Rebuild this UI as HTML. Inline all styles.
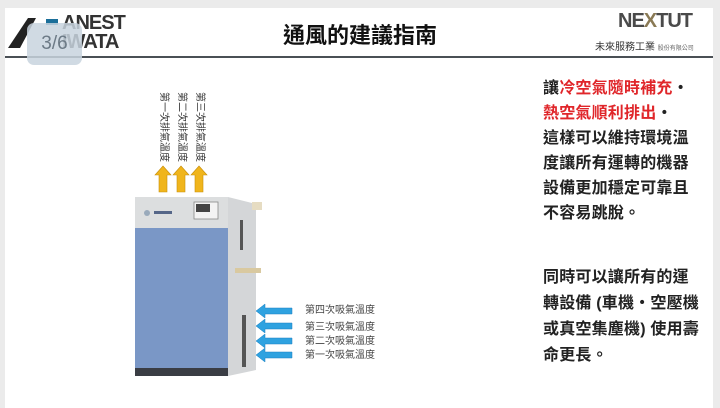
<!DOCTYPE html>
<html><head><meta charset="utf-8"><style>
body{margin:0;width:720px;height:406px;background:#ebebeb;overflow:hidden;font-family:"Liberation Sans","Noto Sans CJK TC",sans-serif;position:relative}
.page{position:absolute;left:5px;top:8px;width:708px;height:400px;background:#fff}
.abs{position:absolute}
.vt{position:absolute;writing-mode:vertical-rl;text-orientation:sideways;font-size:10px;color:#333;top:92px;line-height:12px}
.lbl{position:absolute;left:305px;font-size:10px;color:#444;line-height:12px}
.rt{position:absolute;left:543px;font-size:16px;line-height:25px;color:#222;font-weight:bold;letter-spacing:0.2px}
</style></head><body>
<div class="page"></div>
<div class="abs" style="left:5px;top:56px;width:708px;height:2px;background:#4a5055"></div>
<!-- left logo -->
<svg class="abs" style="left:8px;top:14px" width="80" height="36"><polygon points="0,34 20,4 28,4 12,34" fill="#222"/><rect x="38" y="5" width="12" height="6" fill="#1b6f9a"/></svg>
<div class="abs" style="left:62px;top:14px;font-size:20px;font-weight:bold;color:#333;line-height:19px;letter-spacing:-1px">ANEST<br>IWATA</div>
<div class="abs" style="left:27px;top:23px;width:55px;height:42px;border-radius:7px;background:rgba(200,212,222,0.85);color:#6c7a86;font-size:19px;text-align:center;line-height:42px">3/6</div>
<div class="abs" style="left:200px;top:18px;width:320px;text-align:center;font-size:22px;color:#111;font-weight:bold">通風的建議指南</div>
<!-- right logo -->
<div class="abs" style="left:618px;top:10px;font-size:20px;font-weight:bold;color:#4a4a4a;letter-spacing:-1px">NE<span style="color:#8a7a55">X</span>TUT</div>
<div class="abs" style="left:595px;top:38px;font-size:10px;color:#333;white-space:nowrap">未來服務工業 <span style="font-size:6px;color:#666">股份有限公司</span></div>
<!-- vertical labels -->
<div class="vt" style="left:157px">第一次排氣溫度</div>
<div class="vt" style="left:175px">第二次排氣溫度</div>
<div class="vt" style="left:193px">第三次排氣溫度</div>
<svg class="abs" style="left:150px;top:165px" width="60" height="28">
<g fill="#f0b51c" stroke="#c88f0a" stroke-width="0.6">
<polygon points="13,1 21,10 17,10 17,27 9,27 9,10 5,10"/>
<polygon points="31,1 39,10 35,10 35,27 27,27 27,10 23,10"/>
<polygon points="49,1 57,10 53,10 53,27 45,27 45,10 41,10"/>
</g></svg>
<!-- machine -->
<svg class="abs" style="left:130px;top:190px" width="150" height="195">
<polygon points="98,7 118,12 126,14 126,180 98,186" fill="#d4d6d8"/>
<rect x="5" y="7" width="93" height="31" fill="#dcdedf"/>
<rect x="5" y="38" width="93" height="140" fill="#7a97c6"/>
<rect x="5" y="178" width="93" height="8" fill="#3a3d44"/>
<rect x="64" y="12" width="24" height="17" fill="#f3f3f3" stroke="#888" stroke-width="0.8"/>
<rect x="66" y="14" width="14" height="8" fill="#444"/>
<circle cx="17" cy="23" r="3" fill="#9ab"/>
<rect x="24" y="21" width="18" height="3" fill="#568"/>
<rect x="110" y="30" width="3" height="30" fill="#555"/>
<rect x="112" y="125" width="4" height="52" fill="#555"/>
<rect x="105" y="78" width="26" height="5" fill="#d9c9a0"/>
<rect x="122" y="12" width="10" height="8" fill="#e6dcc2"/>
</svg>
<!-- blue arrows -->
<svg class="abs" style="left:255px;top:303px" width="42" height="60">
<g fill="#2fa2e0" stroke="#1b7fc0" stroke-width="0.5">
<polygon points="1,8 10,1 10,5 37,5 37,11 10,11 10,15"/>
<polygon points="1,23 10,16 10,20 37,20 37,26 10,26 10,30"/>
<polygon points="1,38 10,31 10,35 37,35 37,41 10,41 10,45"/>
<polygon points="1,52 10,45 10,49 37,49 37,55 10,55 10,59"/>
</g></svg>
<div class="lbl" style="top:305px">第四次吸氣溫度</div>
<div class="lbl" style="top:322px">第三次吸氣溫度</div>
<div class="lbl" style="top:336px">第二次吸氣溫度</div>
<div class="lbl" style="top:350px">第一次吸氣溫度</div>
<!-- right text -->
<div class="rt" style="top:76px">讓<span style="color:#e0262a">冷空氣隨時補充</span>‧<br><span style="color:#e0262a">熱空氣順利排出</span>‧<br>這樣可以維持環境溫<br>度讓所有運轉的機器<br>設備更加穩定可靠且<br>不容易跳脫。</div>
<div class="rt" style="top:265px;line-height:26px">同時可以讓所有的運<br>轉設備 (車機‧空壓機<br>或真空集塵機) 使用壽<br>命更長。</div>
</body></html>
